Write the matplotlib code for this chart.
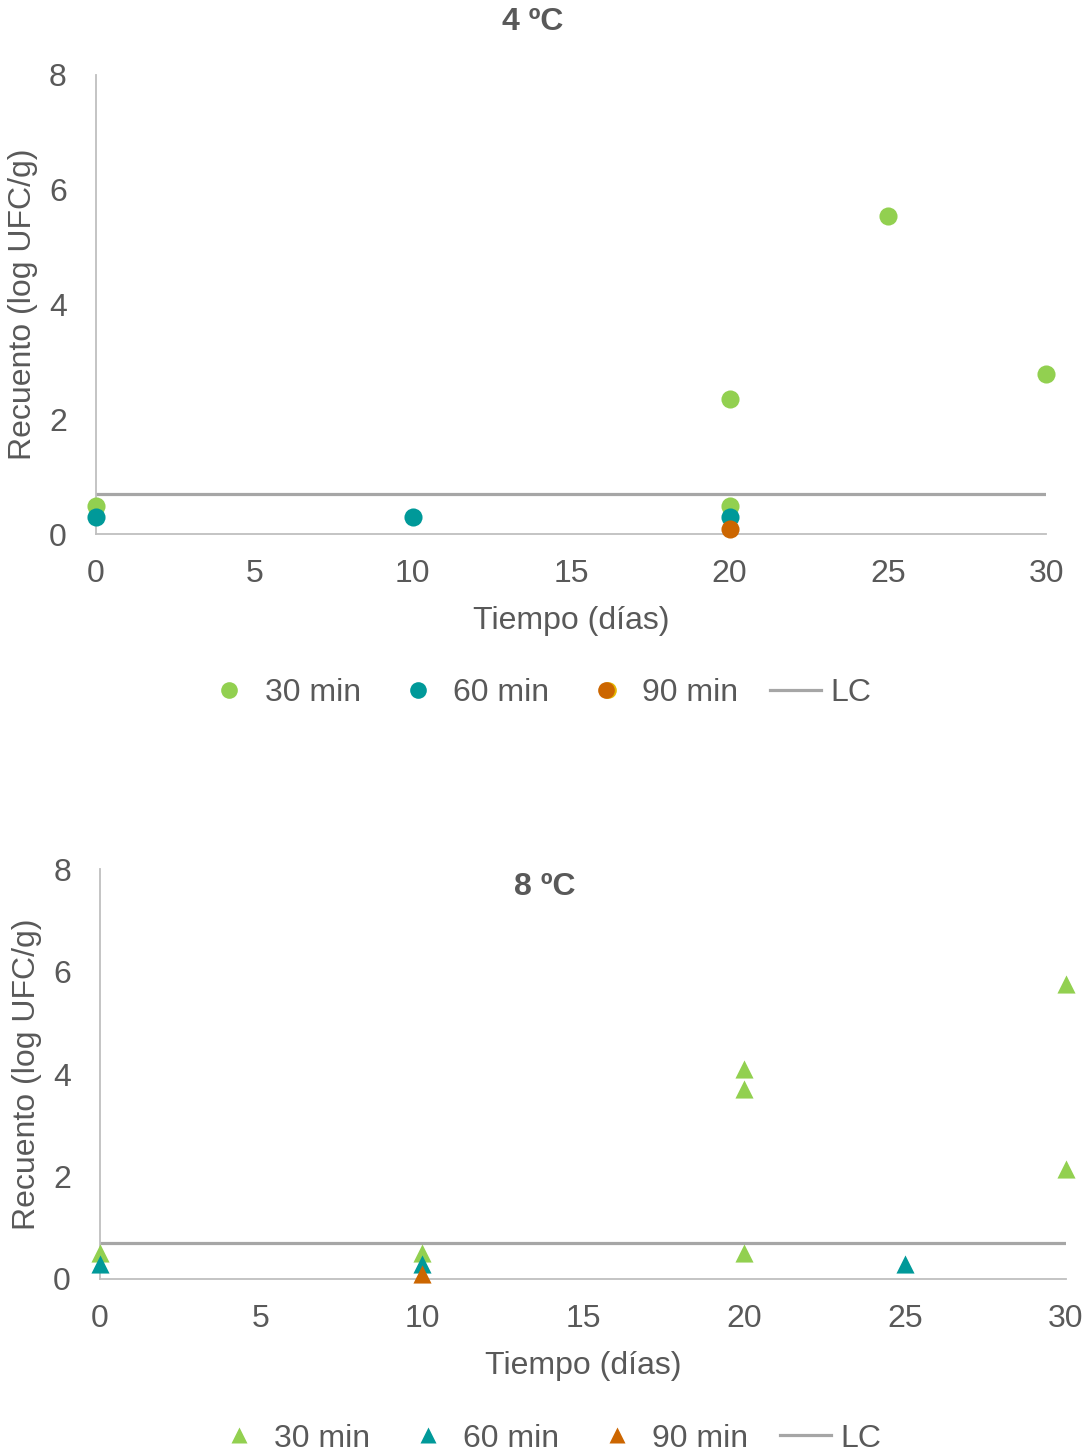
import matplotlib
matplotlib.use("Agg")
import matplotlib.pyplot as plt
from matplotlib.lines import Line2D
from matplotlib.legend_handler import HandlerTuple

plt.rcParams['font.family'] = ['Liberation Sans', 'DejaVu Sans']

# 4 ºC counts (log UFC/g)
dias_30_4 = [0, 20, 20, 25, 30]
log_30_4 = [0.5, 2.35, 0.5, 5.55, 2.8]
dias_60_4 = [0, 10, 20]
log_60_4 = [0.3, 0.3, 0.3]
dias_90_4 = [20]
log_90_4 = [0.1]

# 8 ºC counts (log UFC/g)
dias_30_8 = [0, 10, 20, 20, 20, 30, 30]
log_30_8 = [0.5, 0.5, 4.1, 3.7, 0.5, 5.75, 2.15]
dias_60_8 = [0, 10, 25]
log_60_8 = [0.3, 0.3, 0.3]
dias_90_8 = [10]
log_90_8 = [0.1]

LC = 0.7
xticks = [0, 5, 10, 15, 20, 25, 30]
yticks = [0, 2, 4, 6, 8]

verde = "#92D050"
azul = "#009999"
naranja = "#CC6600"
amarillo = "#E6B800"
gris_txt = "#595959"
gris_eje = "#BFBFBF"
gris_lc = "#A6A6A6"
FS = 23

fig = plt.figure(figsize=(10.91, 14.56), dpi=100)


def estilo(ax):
    ax.set_xlim(0, 30)
    ax.set_ylim(0, 8)
    ax.set_xticks(xticks)
    ax.set_yticks(yticks)
    for s in ["top", "right"]:
        ax.spines[s].set_visible(False)
    for s in ["left", "bottom"]:
        ax.spines[s].set_color(gris_eje)
        ax.spines[s].set_linewidth(1.3)
    ax.tick_params(length=0, labelsize=FS, colors=gris_txt)
    ax.tick_params(axis="x", pad=18)
    ax.tick_params(axis="y", pad=21)
    ax.set_xlabel("Tiempo (días)", fontsize=FS, color=gris_txt, labelpad=12)
    ax.set_ylabel("Recuento (log UFC/g)", fontsize=FS, color=gris_txt, labelpad=8)
    ax.axhline(LC, color=gris_lc, lw=2.3, zorder=2)


def leyenda(handles, y, x):
    return fig.legend(handles, ["30 min", "60 min", "90 min", "LC"],
                      handler_map={tuple: HandlerTuple(ndivide=None, pad=-1.75)},
                      loc="center", bbox_to_anchor=(x, y), ncol=4, frameon=False,
                      fontsize=FS, labelcolor=gris_txt, columnspacing=1.0,
                      handletextpad=0.3, handlelength=1.6)


# top chart: 4 ºC
ax1 = fig.add_axes([0.088, 0.633, 0.871, 0.3155])
estilo(ax1)
kw = dict(s=170, linewidths=0, clip_on=False, zorder=3)
ax1.scatter(dias_30_4, log_30_4, marker="o", color=verde, **kw)
ax1.scatter(dias_60_4, log_60_4, marker="o", color=azul, **kw)
ax1.scatter(dias_90_4, log_90_4, marker="o", color=naranja, **kw)
fig.text(0.488, 0.985, "4 ºC", ha="center", va="center", fontsize=FS,
         fontweight="bold", color=gris_txt)

h30 = Line2D([], [], ls="none", marker="o", ms=12, mec="none", color=verde)
h60 = Line2D([], [], ls="none", marker="o", ms=12, mec="none", color=azul)
h90y = Line2D([], [], ls="none", marker="o", ms=12, mec="none", color=amarillo)
h90 = Line2D([], [], ls="none", marker="o", ms=12, mec="none", color=naranja)
hlc = Line2D([], [], color=gris_lc, lw=2.3)
leyenda([h30, h60, (h90y, h90), hlc], 0.524, 0.493)

# bottom chart: 8 ºC
ax2 = fig.add_axes([0.0917, 0.1216, 0.8853, 0.2815])
estilo(ax2)
ax2.scatter(dias_30_8, log_30_8, marker="^", color=verde, **kw)
ax2.scatter(dias_60_8, log_60_8, marker="^", color=azul, **kw)
ax2.scatter(dias_90_8, log_90_8, marker="^", color=naranja, **kw)
fig.text(0.499, 0.391, "8 ºC", ha="center", va="center", fontsize=FS,
         fontweight="bold", color=gris_txt)

t30 = Line2D([], [], ls="none", marker="^", ms=12, mec="none", color=verde)
t60 = Line2D([], [], ls="none", marker="^", ms=12, mec="none", color=azul)
t90 = Line2D([], [], ls="none", marker="^", ms=12, mec="none", color=naranja)
leyenda([t30, t60, t90, hlc], 0.012, 0.502)

fig.savefig("out.png", dpi=100)
